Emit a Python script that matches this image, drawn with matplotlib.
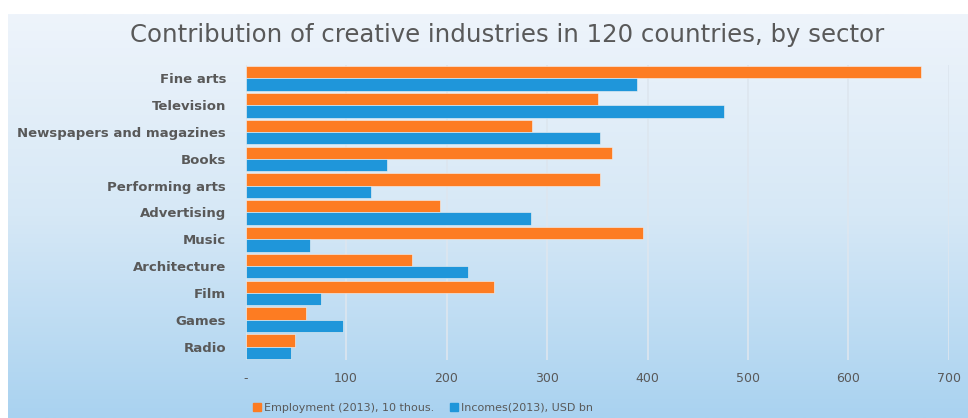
"""Horizontal bar chart of creative industries by sector."""

import numpy as np
import matplotlib.pyplot as plt
from matplotlib.colors import LinearSegmentedColormap
from matplotlib.patches import Patch

sectors = [
    "Fine arts", "Television", "Newspapers and magazines", "Books",
    "Performing arts", "Advertising", "Music", "Architecture", "Film",
    "Games", "Radio",
]
employment = [672, 351, 285, 365, 353, 194, 396, 166, 247, 60, 49]
incomes = [390, 476, 353, 141, 125, 284, 64, 221, 75, 97, 45]
x_ticks = [0, 100, 200, 300, 400, 500, 600, 700]
x_tick_labels = ["-", "100", "200", "300", "400", "500", "600", "700"]

ORANGE = "#fd7c22"
BLUE = "#1f96da"
TEXT = "#595959"

fig = plt.figure(figsize=(9.68, 4.18), dpi=100)

# gradient panel behind the chart
bg = fig.add_axes([8 / 968, 0, 1 - 8 / 968, 1 - 14 / 418], zorder=0)
grad_cmap = LinearSegmentedColormap.from_list("bg", ["#eef4fb", "#d6e8f6", "#a9d2f0"])
bg.imshow(np.linspace(0, 1, 256).reshape(-1, 1), aspect="auto", cmap=grad_cmap,
          extent=[0, 1, 0, 1])
bg.set_axis_off()

ax = fig.add_axes([245.5 / 968, 58 / 418, (949 - 245.5) / 968, (353 - 58) / 418], zorder=1)
ax.patch.set_alpha(0)

y = np.arange(len(sectors))
h = 0.46
ax.barh(y - h / 2, employment, height=h, color=ORANGE, edgecolor="#f4f4f4",
        linewidth=0.4, zorder=3)
ax.barh(y + h / 2, incomes, height=h, color=BLUE, edgecolor="#f4f4f4",
        linewidth=0.4, zorder=3)

ax.set_xlim(0, 700)
ax.set_ylim(len(sectors) - 0.5, -0.5)
ax.set_xticks(x_ticks)
ax.set_xticklabels(x_tick_labels, color=TEXT, fontsize=9, family="DejaVu Sans")
ax.set_yticks(y)
ax.set_yticklabels(sectors, color=TEXT, fontsize=9.5, family="DejaVu Sans",
                   fontweight="bold")
ax.tick_params(length=0, pad=9, axis="x")
ax.tick_params(length=0, pad=14, axis="y")
for s in ax.spines.values():
    s.set_visible(False)
ax.grid(axis="x", color="#dde6ef", linewidth=1.2, zorder=1)
ax.set_axisbelow(True)

fig.text(0.524, 0.917, "Contribution of creative industries in 120 countries, by sector",
         ha="center", va="center", fontsize=17.6, color=TEXT, family="DejaVu Sans")

handles = [Patch(color=ORANGE, label="Employment (2013), 10 thous."),
           Patch(color=BLUE, label="Incomes(2013), USD bn")]
fig.legend(handles=handles, loc="center", bbox_to_anchor=(0.437, 0.025), ncol=2,
           frameon=False, handlelength=0.7, handleheight=0.7, handletextpad=0.3,
           columnspacing=1.4, prop={"family": "DejaVu Sans", "size": 8},
           labelcolor=TEXT)

fig.savefig("out.png", dpi=100)
